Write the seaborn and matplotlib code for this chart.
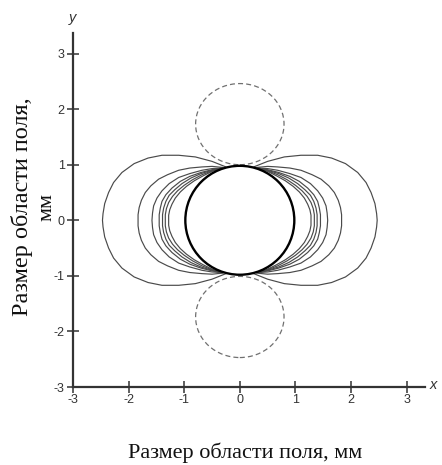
import numpy as np
import pandas as pd
import matplotlib
matplotlib.use("Agg")
import matplotlib.pyplot as plt
from matplotlib.patches import Ellipse
import seaborn as sns

# ---- data (upper-right quarter of each lobe, from contact with circle to x axis)
lobe1_x = [0.25, 0.50, 0.80, 1.10, 1.40, 1.65, 1.90, 2.12, 2.27, 2.36, 2.43, 2.46, 2.47]
lobe1_y = [0.96, 1.06, 1.14, 1.17, 1.17, 1.12, 1.02, 0.86, 0.68, 0.50, 0.30, 0.12, 0.00]
lobe2_x = [0.30, 0.50, 0.68, 0.90, 1.10, 1.30, 1.46, 1.60, 1.70, 1.77, 1.81, 1.83, 1.83]
lobe2_y = [0.95, 0.97, 0.96, 0.94, 0.90, 0.82, 0.74, 0.62, 0.50, 0.36, 0.23, 0.10, 0.00]
lobe3_x = [0.32, 0.50, 0.68, 0.90, 1.10, 1.27, 1.40, 1.49, 1.55, 1.57, 1.58]
lobe3_y = [0.94, 0.93, 0.90, 0.84, 0.77, 0.66, 0.53, 0.40, 0.26, 0.13, 0.00]
lobe4_x = [0.33, 0.50, 0.70, 0.90, 1.07, 1.22, 1.33, 1.40, 1.43, 1.45, 1.45]
lobe4_y = [0.94, 0.91, 0.86, 0.79, 0.70, 0.58, 0.46, 0.34, 0.22, 0.10, 0.00]
lobe5_x = [0.33, 0.50, 0.70, 0.88, 1.04, 1.17, 1.27, 1.33, 1.37, 1.39, 1.39]
lobe5_y = [0.94, 0.90, 0.84, 0.76, 0.66, 0.55, 0.45, 0.34, 0.22, 0.10, 0.00]
lobe6_x = [0.33, 0.50, 0.68, 0.85, 1.00, 1.12, 1.21, 1.28, 1.32, 1.34, 1.34]
lobe6_y = [0.94, 0.89, 0.82, 0.73, 0.63, 0.53, 0.43, 0.32, 0.21, 0.10, 0.00]
lobe7_x = [0.33, 0.50, 0.66, 0.82, 0.96, 1.07, 1.16, 1.22, 1.26, 1.28, 1.28]
lobe7_y = [0.94, 0.88, 0.80, 0.71, 0.61, 0.51, 0.40, 0.29, 0.19, 0.09, 0.00]

main_circle_radius = 0.98
dashed_centers_y = [1.73, -1.74]
dashed_width = 1.59
dashed_height = 1.46

x_ticks = [-3, -2, -1, 0, 1, 2, 3]
y_ticks = [-3, -2, -1, 0, 1, 2, 3]

lobes = [(lobe1_x, lobe1_y), (lobe2_x, lobe2_y), (lobe3_x, lobe3_y),
         (lobe4_x, lobe4_y), (lobe5_x, lobe5_y), (lobe6_x, lobe6_y),
         (lobe7_x, lobe7_y)]

rows = []
cid = 0
for lx, ly in lobes:
    qx = np.array(lx); qy = np.array(ly)
    full_x = np.concatenate([qx, qx[::-1]])
    full_y = np.concatenate([qy, -qy[::-1]])
    for sgn in (1, -1):
        for i, (a, b) in enumerate(zip(full_x, full_y)):
            rows.append({"x": sgn * a, "y": b, "curve": cid, "order": i})
        cid += 1
df = pd.DataFrame(rows)

sns.set_theme(style="white")
plt.rcParams["font.family"] = ["Liberation Sans", "DejaVu Sans"]

fig = plt.figure(figsize=(4.42, 4.65), dpi=100)
ax = fig.add_axes([73/442, 1 - 387/465, (425-73)/442, (387-33)/465])

sns.lineplot(data=df, x="x", y="y", units="curve", estimator=None, sort=False,
             color="#4a4a4a", lw=0.85, ax=ax, legend=False)

ax.add_patch(Ellipse((0, 0), 2*main_circle_radius, 2*main_circle_radius,
                     fill=False, ec="black", lw=1.7, zorder=5))
for cy in dashed_centers_y:
    ax.add_patch(Ellipse((0, cy), dashed_width, dashed_height, fill=False,
                         ec="#707070", lw=0.9, ls=(0, (4, 2.5)), zorder=4))

ax.set_xlim(-3, 3.33)
ax.set_ylim(-3, 3.37)
ax.set_xticks(x_ticks)
ax.set_yticks(y_ticks)
ax.set_xticklabels([str(t) for t in x_ticks])
ax.set_yticklabels([str(t) for t in y_ticks])
for s in ["top", "right"]:
    ax.spines[s].set_visible(False)
for s in ["left", "bottom"]:
    ax.spines[s].set_color("#333333")
    ax.spines[s].set_linewidth(1.6)
ax.tick_params(bottom=True, left=True, direction="inout", length=8, width=1.1,
               color="#333333", labelsize=9, labelcolor="#333333")
ax.tick_params(axis="x", pad=1)
ax.tick_params(axis="y", pad=2)
ax.set_xlabel("")
ax.set_ylabel("")
ax.grid(False)

ax.text(3.48, -2.97, "x", fontsize=10.5, style="italic", color="#333333",
        ha="center", va="center", clip_on=False)
ax.text(-3.0, 3.64, "y", fontsize=10.5, style="italic", color="#333333",
        ha="center", va="center", clip_on=False)

serif = ["Liberation Serif", "DejaVu Serif"]
fig.text(22/442, 1 - 207/465, "Размер области поля,", rotation=90,
         ha="center", va="center", fontsize=17.5, family=serif, color="#111111")
fig.text(47/442, 1 - 207/465, "мм", rotation=90,
         ha="center", va="center", fontsize=16, family=serif, color="#111111")
fig.text(245/442, 1 - 453/465, "Размер области поля, мм",
         ha="center", va="center", fontsize=16, family=serif, color="#111111")

fig.savefig("out.png", dpi=100)
